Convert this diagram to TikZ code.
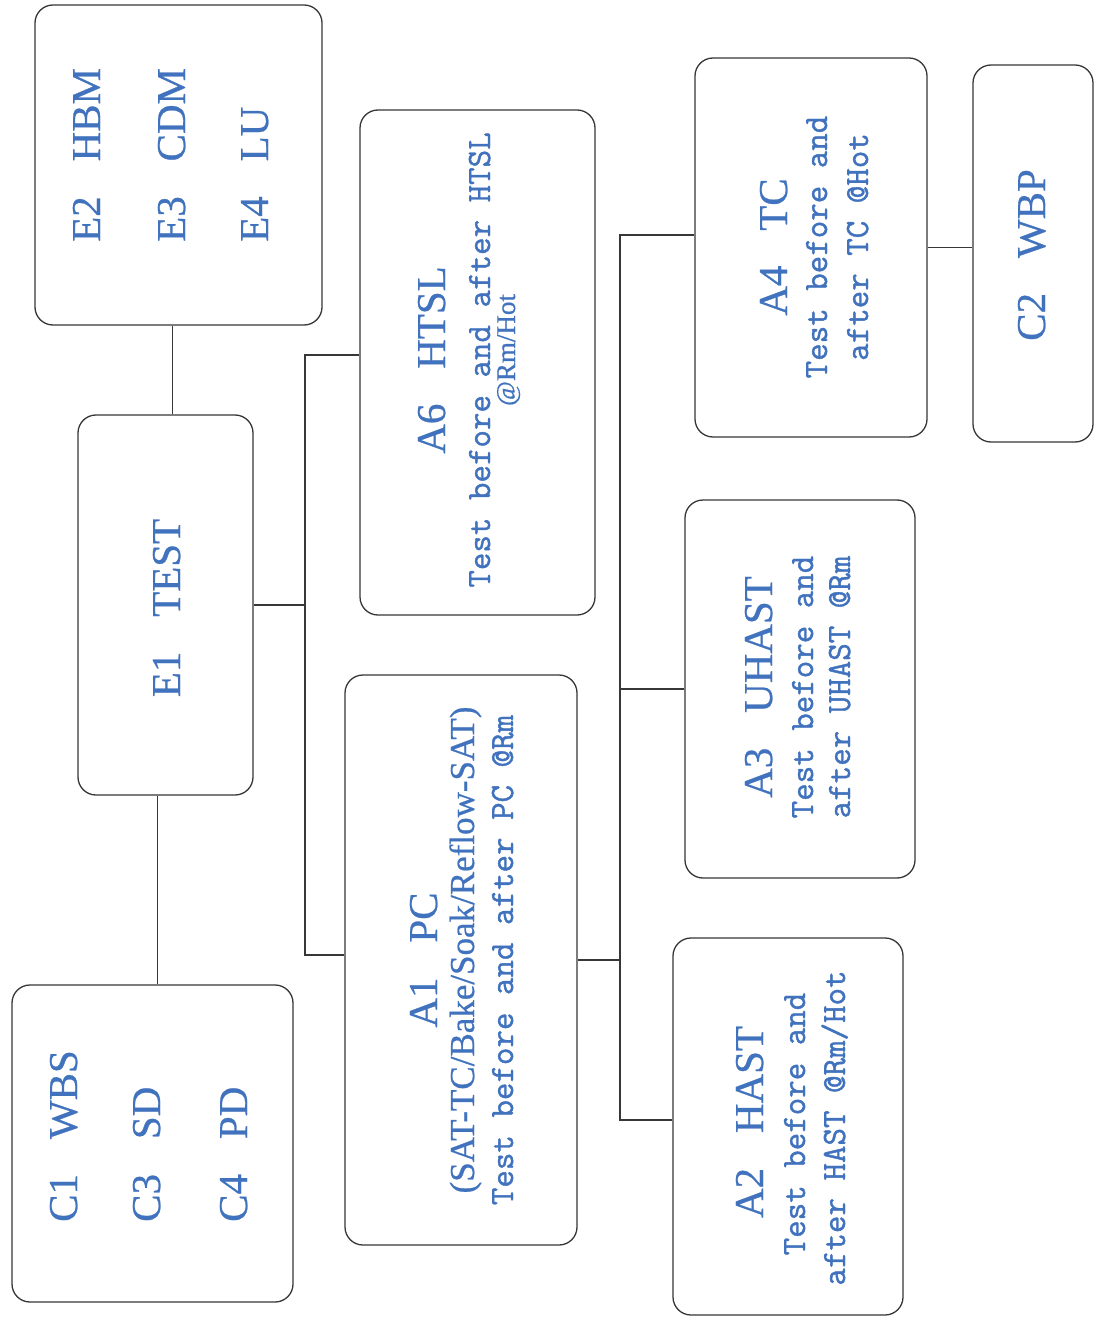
\documentclass[tikz,border=0pt]{standalone}
\usepackage{fontspec}
\setmainfont{Liberation Serif}
\newfontfamily\hdfont{Liberation Serif}[FakeBold=0.6]
\newfontfamily\mymono{Latin Modern Mono}[FakeBold=1.2]
\usetikzlibrary{calc}
\definecolor{txtblue}{RGB}{64,114,190}
\definecolor{linegray}{RGB}{55,55,55}
\newcommand{\hdgap}{\hspace{0.85em}}
\begin{document}
\begin{tikzpicture}[x=1pt,y=-1pt,
  box/.style={draw=linegray, line width=1.3pt, rounded corners=18pt, inner sep=0pt},
  hd/.style={rotate=90, inner sep=0pt, text=txtblue, font=\hdfont\fontsize{41}{41}\selectfont},
  subt/.style={rotate=90, inner sep=0pt, text=txtblue, font=\mymono\fontsize{34}{34}\selectfont},
  subs/.style={rotate=90, inner sep=0pt, text=txtblue, font=\hdfont\fontsize{35}{35}\selectfont},
  conn/.style={draw=linegray, line width=1.3pt}]
\fill[white] (0,0) rectangle (1096,1321);
\useasboundingbox (0,0) rectangle (1096,1321);

% boxes
\node[box, minimum width=287pt, minimum height=320pt] (E) at (178.5,165) {};
\node[box, minimum width=175pt, minimum height=380pt] (E1) at (165.5,605) {};
\node[box, minimum width=281pt, minimum height=317pt] (C) at (152.5,1143.5) {};
\node[box, minimum width=232pt, minimum height=570pt] (A1) at (461,960) {};
\node[box, minimum width=235pt, minimum height=505pt] (A6) at (477.5,362.5) {};
\node[box, minimum width=232pt, minimum height=379pt] (A4) at (811,247.5) {};
\node[box, minimum width=230pt, minimum height=378pt] (A3) at (800,689) {};
\node[box, minimum width=230pt, minimum height=377pt] (A2) at (788,1126.5) {};
\node[box, minimum width=120pt, minimum height=377pt] (C2) at (1033,253.5) {};

% texts
\node[hd, anchor=base west] (e2) at (100,242) {E2\hdgap HBM};
\node[hd, anchor=base west] (e3) at (185,242) {E3\hdgap CDM};
\node[hd, anchor=base west] (e4) at (268,242) {E4\hdgap LU};

\node[hd, anchor=base] (e1) at (180,608) {E1\hdgap TEST};

\node[hd, anchor=base west] (c1) at (77,1222) {C1\hdgap WBS};
\node[hd, anchor=base west] (c3) at (160,1222) {C3\hdgap SD};
\node[hd, anchor=base west] (c4) at (247,1222) {C4\hdgap PD};

\node[hd, anchor=base] (a1h) at (437,960) {A1\hdgap PC};
\node[subs, anchor=base] (a1s) at (474,950) {(SAT-TC/Bake/Soak/Reflow-SAT)};
\node[subt, anchor=base] (a1t) at (513,960) {Test before and after PC @Rm};

\node[hd, anchor=base] (a6h) at (445,360) {A6\hdgap HTSL};
\node[subt, anchor=base] (a6t) at (490,360) {Test before and after HTSL};
\node[rotate=90, inner sep=0pt, text=txtblue, font=\hdfont\fontsize{27}{27}\selectfont, anchor=base] (a6r) at (515,350) {@Rm/Hot};

\node[hd, anchor=base] (a4h) at (787,247) {A4\hdgap TC};
\node[subt, anchor=base] (a4t) at (827,247) {Test before and};
\node[subt, anchor=base] (a4u) at (868,247) {after TC @Hot};

\node[hd, anchor=base] (a3h) at (772,687) {A3\hdgap UHAST};
\node[subt, anchor=base] (a3t) at (813,687) {Test before and};
\node[subt, anchor=base] (a3u) at (850,687) {after UHAST @Rm};

\node[hd, anchor=base] (a2h) at (763,1122) {A2\hdgap HAST};
\node[subt, anchor=base] (a2t) at (805,1124) {Test before and};
\node[subt, anchor=base] (a2u) at (845,1128) {after HAST @Rm/Hot};

\node[hd, anchor=base] (c2t) at (1045,255) {C2\hdgap WBP};

% connectors
\coordinate (j1) at ($(E1.north)+(7,0)$);
\draw[conn] (j1) -- (j1 |- E.south);
\coordinate (j2) at ($(E1.south)+(-8,0)$);
\draw[conn] (j2) -- (j2 |- C.north);

\coordinate (b1t) at (305,355);
\coordinate (b1b) at (305,955);
\draw[conn] (A6.west |- b1t) -- (b1t) -- (b1b) -- (A1.west |- b1b);
\draw[conn] (E1.east) -- (E1.east -| b1t);

\coordinate (b2t) at (620,235);
\coordinate (b2b) at (620,1120);
\draw[conn] (A4.west |- b2t) -- (b2t) -- (b2b) -- (A2.west |- b2b);
\draw[conn] (A3.west) -- (A3.west -| b2t);
\draw[conn] (A1.east) -- (A1.east -| b2t);
\draw[conn] (A4.east) -- (A4.east -| C2.west);
\end{tikzpicture}
\end{document}
